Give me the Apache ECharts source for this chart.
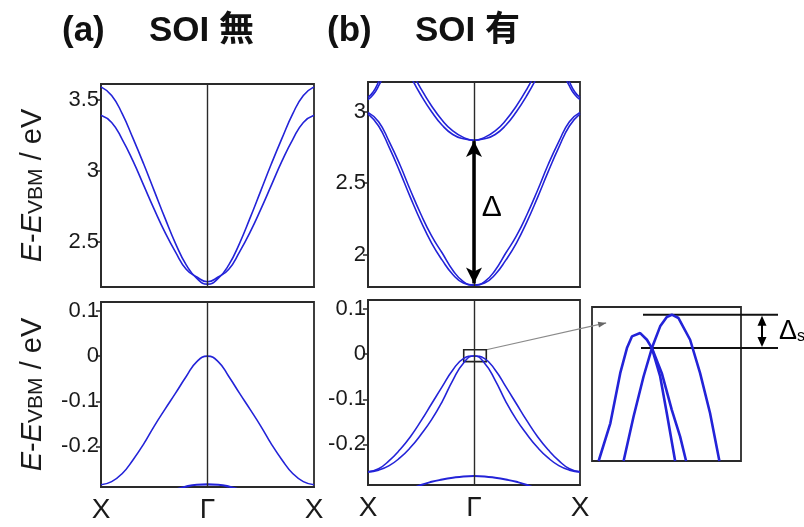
<!DOCTYPE html>
<html><head><meta charset="utf-8">
<script src="https://cdn.jsdelivr.net/npm/echarts/dist/echarts.min.js"></script>
<style>html,body{margin:0;padding:0;background:#fff}#c{width:804px;height:527px}</style>
</head><body><div id="c"></div>
<script>
// ---------- data ----------
const kFull = [-1,-0.9,-0.8,-0.7,-0.6,-0.5,-0.4,-0.3,-0.2,-0.1,0,0.1,0.2,0.3,0.4,0.5,0.6,0.7,0.8,0.9,1];
const xTickLabels = {'-1':'X','0':'Γ','1':'X'};
// (a) SOI 無 : conduction bands
const aCond1 = [3.59,3.53,3.40,3.23,3.05,2.86,2.67,2.49,2.34,2.245,2.205,2.245,2.34,2.49,2.67,2.86,3.05,3.23,3.40,3.53,3.59];
const aCond2 = [3.39,3.34,3.22,3.07,2.90,2.73,2.57,2.43,2.31,2.255,2.222,2.255,2.31,2.43,2.57,2.73,2.90,3.07,3.22,3.34,3.39];
// (a) valence bands
const aVal1 = [-0.285,-0.278,-0.26,-0.23,-0.195,-0.155,-0.118,-0.082,-0.045,-0.012,0,-0.012,-0.045,-0.082,-0.118,-0.155,-0.195,-0.23,-0.26,-0.278,-0.285];
const kShort = [-0.3,-0.2,-0.1,0,0.1,0.2,0.3];
const aVal2 = [-0.296,-0.289,-0.285,-0.284,-0.285,-0.289,-0.296];
// (b) SOI 有 : lower conduction pair
const bCondLow1 = [2.995,2.93,2.79,2.63,2.45,2.28,2.13,2.01,1.89,1.81,1.785,1.80,1.86,1.96,2.08,2.23,2.40,2.58,2.75,2.90,2.985];
const bCondLow2 = [2.985,2.90,2.75,2.58,2.40,2.23,2.08,1.96,1.86,1.80,1.785,1.81,1.89,2.01,2.13,2.28,2.45,2.63,2.79,2.93,2.995];
// (b) upper conduction pair
const kC = [-0.7,-0.6,-0.5,-0.4,-0.3,-0.2,-0.1,0,0.1,0.2,0.3,0.4,0.5,0.6,0.7];
const bCondHigh1 = [3.45,3.30,3.16,3.04,2.94,2.865,2.82,2.80,2.81,2.84,2.905,3.00,3.115,3.25,3.40];
const bCondHigh2 = [3.40,3.25,3.115,3.00,2.905,2.84,2.81,2.80,2.82,2.865,2.94,3.04,3.16,3.30,3.45];
// (b) bands near X at the top
const kDL = [-1,-0.95,-0.9,-0.85];
const kDR = [0.85,0.9,0.95,1];
const bCornerL1 = [3.10,3.14,3.21,3.30];
const bCornerL2 = [3.085,3.12,3.18,3.26];
const bCornerR1 = [3.30,3.21,3.14,3.10];
const bCornerR2 = [3.26,3.18,3.12,3.085];
// (b) valence pair
const bVal1 = [-0.261,-0.254,-0.236,-0.212,-0.183,-0.148,-0.110,-0.072,-0.035,-0.010,-0.004,-0.020,-0.058,-0.105,-0.145,-0.178,-0.207,-0.230,-0.247,-0.257,-0.261];
const bVal2 = [-0.261,-0.257,-0.247,-0.230,-0.207,-0.178,-0.145,-0.105,-0.058,-0.020,-0.004,-0.010,-0.035,-0.072,-0.110,-0.148,-0.183,-0.212,-0.236,-0.254,-0.261];
// (b) lower valence band
const kF = [-0.6,-0.5,-0.4,-0.3,-0.2,-0.1,0,0.1,0.2,0.3,0.4,0.5,0.6];
const bVal3 = [-0.300,-0.290,-0.283,-0.278,-0.274,-0.271,-0.270,-0.271,-0.274,-0.278,-0.283,-0.290,-0.300];
// zoom window around the VBM (k range, E range)
const zoomK = [-0.097,0.116];
const zoomE = [-0.0165,0.0098];
// inset (magnified VBM)
const in1K = [-0.0911,-0.0754,-0.0621,-0.0531,-0.0464,-0.0353,-0.0263,-0.0196,-0.0085,0.0004,0.0116];
const in1E = [-0.02,-0.01265,-0.00289,0.0020,0.00427,0.00492,0.00362,0.0020,-0.00354,-0.0107,-0.02];
const in2K = [-0.0576,-0.0442,-0.0308,-0.0196,-0.0085,0.0004,0.0071,0.0161,0.0317,0.0451,0.0585,0.0710];
const in2E = [-0.02,-0.01134,-0.00354,0.0020,0.00623,0.00805,0.0085,0.00785,0.00362,-0.00289,-0.0107,-0.02];
const in3K = [-0.0196,-0.0063,0.0071,0.0183,0.0263];
const in3E = [0.0020,-0.00289,-0.01004,-0.01525,-0.02];

// ---------- chart ----------
const FONT = '"Liberation Sans", Arial, Helvetica, sans-serif';
const BLUE = '#2323d8';
const DARK = '#2a2a2a';
const zip = (ks, vs) => ks.map((k, i) => [k, vs[i]]);

const grids = [
  {left:101, top:84, width:213, height:203},
  {left:101, top:302, width:213, height:185},
  {left:368, top:82, width:212, height:205},
  {left:368, top:300, width:212, height:185},
  {left:592, top:307, width:149, height:154}
].map(g => Object.assign({show:true, borderColor:DARK, borderWidth:1.8, backgroundColor:'transparent'}, g));

const yName = {
  name:'{i|E}-{i|E}{s|VBM} / eV', nameLocation:'middle', nameRotate:90, nameGap:54,
  nameTextStyle:{fontSize:29, color:'#1a1a1a', fontFamily:FONT,
    rich:{i:{fontStyle:'italic', fontSize:29, fontFamily:FONT, color:'#1a1a1a'},
          s:{fontSize:21, fontFamily:FONT, color:'#1a1a1a', verticalAlign:'bottom'}}}
};
function yAx(g, min, max, split, named) {
  const a = {type:'value', gridIndex:g, min, max, splitNumber:split, scale:true,
    axisLine:{show:true, onZero:false, lineStyle:{color:DARK, width:1.8}},
    axisTick:{show:true, length:5, lineStyle:{color:DARK, width:1.5}},
    axisLabel:{fontSize:22, color:'#1a1a1a', fontFamily:FONT, margin:2, showMinLabel:false, showMaxLabel:false},
    splitLine:{show:false}};
  if (named) Object.assign(a, yName);
  return a;
}
function xAx(g, labels) {
  return {type:'value', gridIndex:g, min:-1, max:1, interval:1,
    axisLine:{show:true, onZero:false, lineStyle:{color:DARK, width:1.8}},
    axisTick:{show:false}, splitLine:{show:false},
    axisLabel:{show:labels, fontSize:28, color:'#1a1a1a', fontFamily:FONT, margin:9,
      showMinLabel:true, showMaxLabel:true, formatter:v => xTickLabels[String(Math.round(v))]}};
}
const gammaLine = {silent:true, symbol:'none', label:{show:false},
  lineStyle:{color:DARK, width:1.4, type:'solid'}, data:[{xAxis:0}], animation:false};

function band(g, data, extra) {
  return Object.assign({type:'line', xAxisIndex:g, yAxisIndex:g, data, symbol:'none', showSymbol:false,
    smooth:0.5, clip:true, silent:true, animation:false,
    lineStyle:{color:BLUE, width:1.6}}, extra || {});
}

const gapLow = Math.min(...bCondLow1);
const gapHigh = Math.min(...bCondHigh1);

const series = [
  band(0, zip(kFull, aCond1), {markLine:gammaLine}),
  band(0, zip(kFull, aCond2)),
  band(1, zip(kFull, aVal1), {markLine:gammaLine}),
  band(1, zip(kShort, aVal2), {lineStyle:{color:BLUE, width:2.2}}),
  band(2, zip(kFull, bCondLow1), {markLine:gammaLine}),
  band(2, zip(kFull, bCondLow2)),
  band(2, zip(kC, bCondHigh1)),
  band(2, zip(kC, bCondHigh2)),
  band(2, zip(kDL, bCornerL1)),
  band(2, zip(kDL, bCornerL2)),
  band(2, zip(kDR, bCornerR1)),
  band(2, zip(kDR, bCornerR2), {markLine:{silent:true, symbol:['arrow','arrow'], symbolSize:[12,16],
    label:{show:false}, lineStyle:{color:'#000', width:3.5, type:'solid'}, animation:false,
    data:[[{coord:[0, gapLow + 0.012]}, {coord:[0, gapHigh - 0.006]}]]}}),
  band(3, zip(kFull, bVal1), {markLine:gammaLine}),
  band(3, zip(kFull, bVal2), {markArea:{silent:true, animation:false,
    itemStyle:{color:'rgba(0,0,0,0)', borderColor:'#222', borderWidth:1.6},
    data:[[{coord:[zoomK[0], zoomE[0]]}, {coord:[zoomK[1], zoomE[1]]}]]}}),
  band(3, zip(kF, bVal3), {lineStyle:{color:BLUE, width:2}}),
  band(4, zip(in1K, in1E), {smooth:false, lineStyle:{color:BLUE, width:2.6}}),
  band(4, zip(in2K, in2E), {smooth:false, lineStyle:{color:BLUE, width:2.6}}),
  band(4, zip(in3K, in3E), {smooth:false, lineStyle:{color:BLUE, width:2.6}})
];

const chart = echarts.init(document.getElementById('c'), null, {renderer:'canvas'});
chart.setOption({
  animation:false,
  backgroundColor:'#fff',
  grid:grids,
  xAxis:[xAx(0,false), xAx(1,true), xAx(2,false), xAx(3,true),
    {type:'value', gridIndex:4, min:-0.1, max:0.1, show:false}],
  yAxis:[yAx(0,2.185,3.61,3,true), yAx(1,-0.29,0.12,4,true), yAx(2,1.772,3.208,3,false), yAx(3,-0.29,0.12,4,false),
    {type:'value', gridIndex:4, min:-0.02, max:0.01, show:false}],
  series
});

// ---------- annotations placed through the chart's own scales ----------
function head(tip, from, len, w) {
  const dx = tip[0]-from[0], dy = tip[1]-from[1], L = Math.hypot(dx,dy), ux = dx/L, uy = dy/L;
  const bx = tip[0]-ux*len, by = tip[1]-uy*len;
  return [tip, [bx - uy*w/2, by + ux*w/2], [bx + uy*w/2, by - ux*w/2]];
}
const g = [];
const titleFont = 'bold 35px "Liberation Sans", Arial, "Noto Sans CJK JP", sans-serif';
g.push({type:'text', left:62, top:14, style:{text:'(a)', font:titleFont, fill:'#111'}});
g.push({type:'text', left:149, top:14, style:{text:'SOI 無', font:titleFont, fill:'#111'}});
g.push({type:'text', left:327, top:14, style:{text:'(b)', font:titleFont, fill:'#111'}});
g.push({type:'text', left:415, top:14, style:{text:'SOI 有', font:titleFont, fill:'#111'}});

// Δ label
const dPos = chart.convertToPixel({gridIndex:2}, [0.167, 2.33]);
g.push({type:'text', x:dPos[0], y:dPos[1], style:{text:'Δ', font:'30px "Liberation Sans", Arial', fill:'#000', align:'center', verticalAlign:'middle'}});

// connector from zoom box to inset
const p1 = chart.convertToPixel({gridIndex:3}, [zoomK[1], zoomE[1]]);
const p2 = chart.convertToPixel({gridIndex:4}, [-0.081, 0.0069]);
g.push({type:'line', shape:{x1:p1[0], y1:p1[1], x2:p2[0], y2:p2[1]}, style:{stroke:'#8a8a8a', lineWidth:1.2}});
g.push({type:'polygon', shape:{points:head(p2, p1, 8, 6)}, style:{fill:'#666'}});

// Δs markers
const eTop = Math.max(...in2E), eCross = in3E[0];
const yU = chart.convertToPixel({gridIndex:4}, [0, eTop])[1];
const yL = chart.convertToPixel({gridIndex:4}, [0, eCross])[1];
g.push({type:'line', shape:{x1:643, y1:yU, x2:778, y2:yU}, style:{stroke:'#111', lineWidth:2}});
g.push({type:'line', shape:{x1:641, y1:yL, x2:778, y2:yL}, style:{stroke:'#111', lineWidth:2}});
const ax = 762;
g.push({type:'line', shape:{x1:ax, y1:yU+8, x2:ax, y2:yL-8}, style:{stroke:'#000', lineWidth:2}});
g.push({type:'polygon', shape:{points:head([ax, yU+1], [ax, yL], 10, 9)}, style:{fill:'#000'}});
g.push({type:'polygon', shape:{points:head([ax, yL-1], [ax, yU], 10, 9)}, style:{fill:'#000'}});
g.push({type:'text', x:779, y:(yU+yL)/2, style:{text:'{d|Δ}{s|s}', verticalAlign:'middle',
  rich:{d:{fontSize:27, fontFamily:FONT, fill:'#000'}, s:{fontSize:16, fontFamily:FONT, fill:'#000', verticalAlign:'bottom'}}}});

chart.setOption({graphic:g});
</script></body></html>
